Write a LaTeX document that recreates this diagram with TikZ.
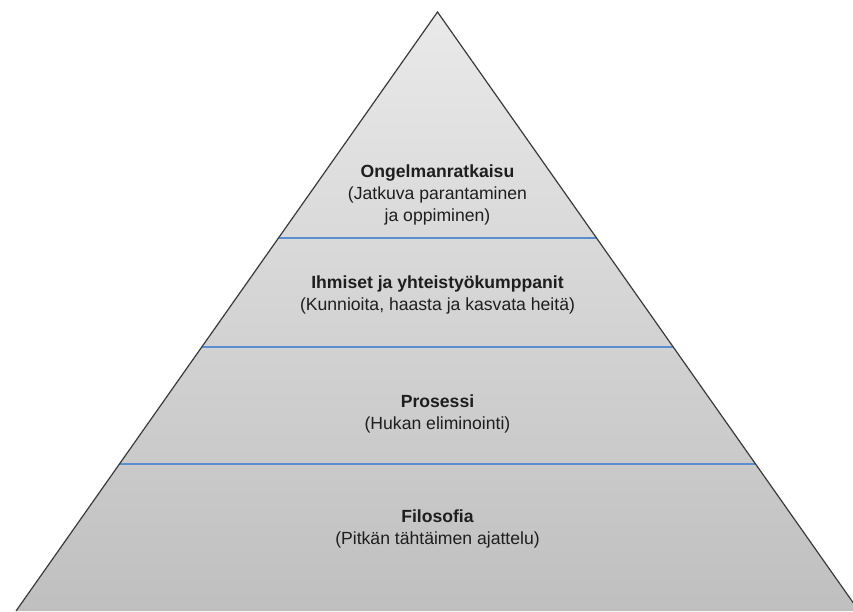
\documentclass[tikz,border=0pt]{standalone}
\usepackage{fontspec}
\setmainfont{Liberation Sans}
\usepackage{tikz}
\usetikzlibrary{calc}

\definecolor{edgegray}{HTML}{3A3A3A}
\definecolor{layerblue}{HTML}{5B8ED0}
\definecolor{textgray}{HTML}{1E1E1E}

\tikzset{
  layer/.style={align=center,text=textgray,font=\fontsize{17.6}{22}\selectfont},
  divider/.style={layerblue,line width=1.1pt}
}

\begin{document}
\begin{tikzpicture}[x=1pt,y=-1pt]
    \useasboundingbox (0,0) rectangle (853,611);
    \coordinate (top) at (437.5,12);
    \coordinate (bl) at (16,611);
    \coordinate (br) at (859,611);
    % pyramid
    \shade[top color=gray!17,bottom color=gray!50] (top) -- (bl) -- (br) -- cycle;
    % layer borders
    \draw[divider] ($(top)!.3773!(bl)$) -- ($(top)!.3773!(br)$);
    \draw[divider] ($(top)!.5593!(bl)$) -- ($(top)!.5593!(br)$);
    \draw[divider] ($(top)!.7546!(bl)$) -- ($(top)!.7546!(br)$);
    \draw[edgegray,line width=1.2pt,line join=miter] (bl) -- (top) -- (br);
    % texts
    \node[layer] (ongelma) at (437.5,195) {\textbf{Ongelmanratkaisu}\\(Jatkuva parantaminen\\ja oppiminen)};
    \node[layer] (ihmiset) at (437.5,295) {\textbf{Ihmiset ja yhteistyökumppanit}\\(Kunnioita, haasta ja kasvata heitä)};
    \node[layer] (prosessi) at (437.5,414) {\textbf{Prosessi}\\(Hukan eliminointi)};
    \node[layer] (filosofia) at (437.5,529) {\textbf{Filosofia}\\(Pitkän tähtäimen ajattelu)};
  \end{tikzpicture}
\end{document}
